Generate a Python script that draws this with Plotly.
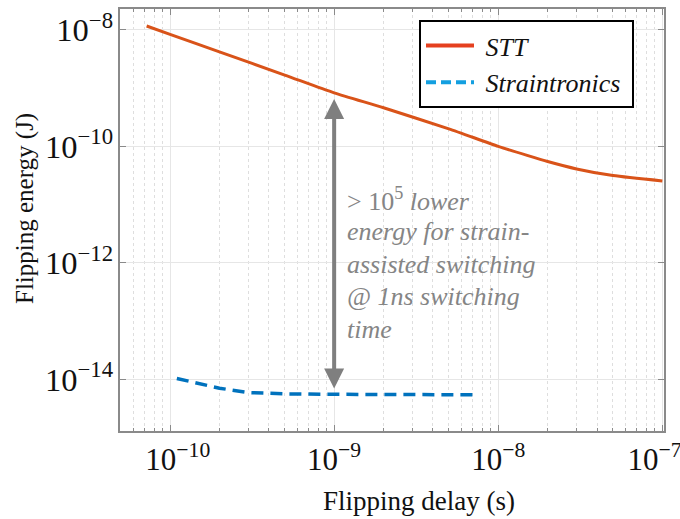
import numpy as np
import plotly.graph_objects as go

# ---- data ----
stt_delay = [7.2e-11, 1e-10, 2e-10, 5e-10, 1e-9, 2e-9, 5e-9, 1e-8, 1.5e-8, 2e-8, 3e-8, 5e-8, 1e-7]
stt_energy = [1.17e-8, 8.4e-9, 4.2e-9, 1.68e-9, 8.3e-10, 4.6e-10, 2.0e-10, 1.0e-10,
              7.0e-11, 5.5e-11, 4.1e-11, 3.15e-11, 2.55e-11]

str_delay = [1.1e-10, 1.5e-10, 2e-10, 3e-10, 5e-10, 1e-9, 2e-9, 5e-9, 7e-9]
str_energy = [1.03e-14, 8.3e-15, 7.0e-15, 5.9e-15, 5.6e-15, 5.5e-15, 5.45e-15, 5.4e-15, 5.4e-15]

series_names = ["STT", "Straintronics"]

x_tick_vals = [1e-10, 1e-9, 1e-8, 1e-7]
x_tick_text = ["\u00a0\u00a010<sup>\u221210</sup>", "10<sup>\u22129</sup>", "10<sup>\u22128</sup>",
               "10<sup>\u22127</sup>\u00a0\u00a0"]

arrow_delay = 1e-9
arrow_top = 6.5e-10
arrow_bottom = 6.5e-15

note_lines = ["> 10<sup>5</sup> <i>lower</i>",
              "<i>energy for strain-</i>",
              "<i>assisted switching</i>",
              "<i>@ 1ns switching</i>",
              "<i>time</i>"]

x_title = "Flipping delay (s)"
y_title = "Flipping energy (J)"

x_range = [1e-10 / 10**0.305, 1e-7 * 10**0.01]
y_range = [10**-14.89, 10**-7.64]

# ---- style ----
STT_COLOR = "#D95319"
STR_COLOR = "#0072BD"
STT_LEG = "#E5401F"
STR_LEG = "#139FE0"
SERIF = "Liberation Serif, Times New Roman, serif"
AXIS_GRAY = "#8a8a8a"

fig = go.Figure()
fig.add_trace(go.Scatter(x=stt_delay, y=stt_energy, mode="lines",
                         line=dict(color=STT_COLOR, width=3, shape="spline", smoothing=0.6),
                         showlegend=False))
fig.add_trace(go.Scatter(x=str_delay, y=str_energy, mode="lines",
                         line=dict(color=STR_COLOR, width=3.5, dash="12px,7px"),
                         showlegend=False))
# legend entries
fig.add_trace(go.Scatter(x=[None], y=[None], mode="lines",
                         name="\u00a0<i>%s</i>\u00a0" % series_names[0],
                         line=dict(color=STT_LEG, width=4)))
fig.add_trace(go.Scatter(x=[None], y=[None], mode="lines",
                         name="\u00a0<i>%s</i>\u00a0" % series_names[1],
                         line=dict(color=STR_LEG, width=4, dash="10px,5px")))

# double headed arrow
fig.add_annotation(x=np.log10(arrow_delay), y=np.log10(arrow_top),
                   ax=np.log10(arrow_delay), ay=np.log10(arrow_bottom),
                   xref="x", yref="y", axref="x", ayref="y", text="",
                   showarrow=True, arrowhead=2, startarrowhead=2, arrowside="end+start",
                   arrowwidth=4, arrowsize=1.0, startarrowsize=1.0, arrowcolor="#7f7f7f")

# note text (one annotation per line)
plot_left, plot_w = 120, 544
plot_top, plot_h = 9, 422
line_centers = [199, 231.5, 264, 296.5, 329]
for txt, yc in zip(note_lines, line_centers):
    fig.add_annotation(x=(345 - plot_left) / plot_w, y=1 - (yc - plot_top) / plot_h,
                       xref="paper", yref="paper", text=txt, showarrow=False,
                       xanchor="left", yanchor="middle",
                       font=dict(family=SERIF, size=26, color="#858585"))

# axis titles
fig.add_annotation(x=(419 - plot_left) / plot_w, y=1 - (501 - plot_top) / plot_h,
                   xref="paper", yref="paper", text=x_title, showarrow=False,
                   xanchor="center", yanchor="middle",
                   font=dict(family=SERIF, size=27, color="#111111"))
fig.add_annotation(x=(25 - plot_left) / plot_w, y=1 - (209 - plot_top) / plot_h,
                   xref="paper", yref="paper", text=y_title, showarrow=False,
                   textangle=-90, xanchor="center", yanchor="middle",
                   font=dict(family=SERIF, size=25, color="#111111"))

axis_common = dict(type="log", showline=True, linecolor=AXIS_GRAY, linewidth=1.5,
                   mirror="ticks", ticks="inside", ticklen=6, tickcolor=AXIS_GRAY,
                   tickwidth=1, showgrid=True, gridcolor="#e6e6e6", gridwidth=1,
                   zeroline=False, exponentformat="power", ticklabeloverflow="allow")

minor_vals = [k * 10.0**e for e in range(-11, -7) for k in range(2, 10)]

fig.update_xaxes(**axis_common, range=[np.log10(x_range[0]), np.log10(x_range[1])],
                 tickmode="array", tickvals=x_tick_vals, ticktext=x_tick_text,
                 tickfont=dict(family=SERIF, size=31, color="#111111"),
                 minor=dict(tickmode="array", tickvals=minor_vals, ticks="inside", ticklen=3,
                            tickcolor=AXIS_GRAY, showgrid=True, gridcolor="#dedede",
                            griddash="dot", gridwidth=1))
fig.update_yaxes(**axis_common, range=[np.log10(y_range[0]), np.log10(y_range[1])],
                 dtick=2, tickfont=dict(family=SERIF, size=26, color="#111111"))

fig.update_layout(
    width=680, height=519,
    margin=dict(l=120, r=16, t=9, b=88, autoexpand=False),
    paper_bgcolor="white", plot_bgcolor="white",
    showlegend=True,
    legend=dict(x=(634 - 120) / 544, y=1 - (20 - 9) / 422, xanchor="right", yanchor="top",
                bgcolor="white", bordercolor="black", borderwidth=2,
                font=dict(family=SERIF, size=26, color="#111111"),
                itemwidth=48, tracegroupgap=0),
)

fig.write_html("out.html")
